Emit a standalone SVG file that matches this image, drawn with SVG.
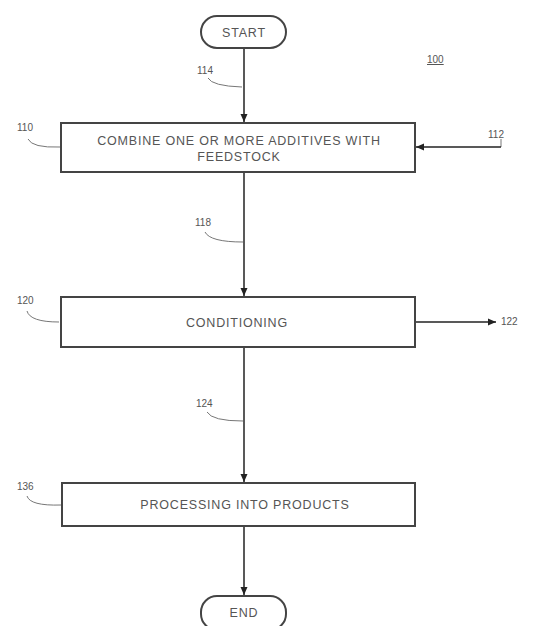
<svg xmlns="http://www.w3.org/2000/svg" width="540" height="626" viewBox="0 0 540 626">
<defs>
<marker id="ah" markerWidth="10" markerHeight="10" refX="9" refY="5" orient="auto" markerUnits="userSpaceOnUse"><path d="M1,1.5 L9,5 L1,8.5 Z" fill="#222"/></marker>
</defs>
<style>
.box{fill:#fff;stroke:#444;stroke-width:2}
.t{font-family:"Liberation Sans",Arial,sans-serif;font-size:12.5px;letter-spacing:0.8px;fill:#555;text-anchor:middle}
.lbl{font-family:"Liberation Sans",Arial,sans-serif;font-size:10px;fill:#555}
.c{fill:none;stroke:#222;stroke-width:1.5}
.ld{fill:none;stroke:#777;stroke-width:1}
</style>
<rect width="540" height="626" fill="#fff"/>
<g id="connectors">
<line class="c" x1="244" y1="49" x2="244" y2="122" marker-end="url(#ah)"/>
<line class="c" x1="244" y1="172" x2="244" y2="296" marker-end="url(#ah)"/>
<line class="c" x1="244" y1="347" x2="244" y2="482" marker-end="url(#ah)"/>
<line class="c" x1="244" y1="526" x2="244" y2="595" marker-end="url(#ah)"/>
<line class="ld" x1="501" y1="139" x2="501" y2="147"/>
<line class="c" x1="501" y1="147" x2="416" y2="147" marker-end="url(#ah)"/>
<line class="c" x1="415" y1="322" x2="496" y2="322" marker-end="url(#ah)"/>
</g>
<g id="start">
<rect class="box" x="201" y="16" width="85" height="32" rx="16"/>
<text class="t" x="244" y="37">START</text>
</g>
<g id="n110">
<rect class="box" x="61" y="123" width="354" height="49"/>
<text class="t" x="239" y="145">COMBINE ONE OR MORE ADDITIVES WITH</text>
<text class="t" x="239" y="161">FEEDSTOCK</text>
</g>
<g id="n120">
<rect class="box" x="61" y="297" width="354" height="50"/>
<text class="t" x="237" y="327">CONDITIONING</text>
</g>
<g id="n136">
<rect class="box" x="62" y="483" width="353" height="43"/>
<text class="t" x="245" y="509">PROCESSING INTO PRODUCTS</text>
</g>
<g id="end">
<rect class="box" x="201" y="596" width="85" height="34" rx="16"/>
<text class="t" x="244" y="617">END</text>
</g>
<g id="labels">
<text class="lbl" x="427" y="63" text-decoration="underline">100</text>
<text class="lbl" x="197" y="74">114</text>
<path class="ld" d="M208,78 Q212,86 242,87"/>
<text class="lbl" x="17" y="131">110</text>
<path class="ld" d="M28,139 Q32,148 60,147"/>
<text class="lbl" x="488" y="138">112</text>
<text class="lbl" x="195" y="226">118</text>
<path class="ld" d="M205,232 Q210,242 243,242"/>
<text class="lbl" x="17" y="304">120</text>
<path class="ld" d="M27,311 Q30,322 59,322"/>
<text class="lbl" x="501" y="325">122</text>
<text class="lbl" x="196" y="407">124</text>
<path class="ld" d="M207,412 Q212,421 243,421"/>
<text class="lbl" x="17" y="490">136</text>
<path class="ld" d="M27,496 Q30,506 61,505"/>
</g>
</svg>
